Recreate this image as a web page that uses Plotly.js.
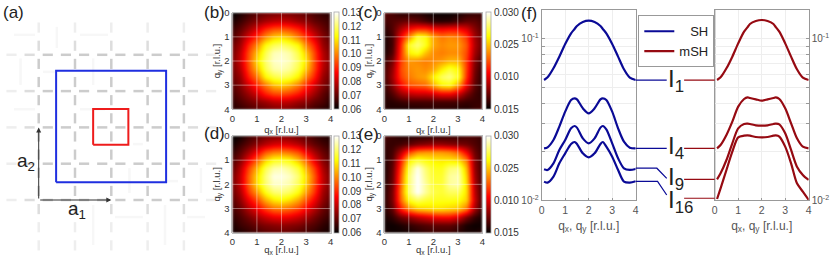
<!DOCTYPE html>
<html><head><meta charset="utf-8">
<script src="https://cdn.plot.ly/plotly-3.0.1.min.js"></script>
<style>html,body{margin:0;padding:0;background:#fff}#c{width:831px;height:256px}.hm image{filter:blur(1.3px)}</style>
</head><body><div id="c"></div>
<script>
// ---------- data ----------
const qMap = [0,1/3,2/3,1,4/3,5/3,2,7/3,8/3,3,10/3,11/3,4];
const panelB = [
[.060,.063,.066,.069,.071,.072,.073,.072,.071,.069,.067,.065,.064],
[.063,.066,.070,.074,.077,.079,.080,.079,.076,.074,.070,.068,.066],
[.066,.070,.076,.083,.090,.094,.095,.093,.089,.082,.076,.071,.067],
[.068,.074,.083,.092,.101,.107,.109,.106,.099,.091,.082,.074,.069],
[.071,.077,.090,.101,.113,.118,.120,.117,.112,.099,.089,.076,.071],
[.072,.080,.094,.107,.118,.125,.126,.124,.117,.106,.093,.079,.072],
[.073,.081,.095,.110,.120,.126,.127,.125,.119,.109,.094,.080,.073],
[.072,.079,.093,.106,.118,.124,.125,.123,.117,.106,.093,.079,.072],
[.071,.076,.089,.099,.112,.117,.119,.117,.111,.099,.089,.076,.071],
[.069,.074,.082,.091,.099,.106,.108,.105,.099,.090,.082,.074,.069],
[.067,.071,.076,.082,.089,.093,.094,.092,.088,.082,.076,.070,.066],
[.065,.068,.071,.074,.076,.079,.080,.079,.076,.074,.070,.068,.064],
[.064,.065,.067,.069,.071,.072,.073,.072,.070,.068,.066,.064,.063]];
const panelD = [
[.060,.062,.066,.069,.072,.073,.074,.073,.071,.069,.066,.064,.063],
[.062,.066,.070,.075,.079,.082,.083,.082,.079,.074,.070,.067,.065],
[.065,.070,.077,.086,.095,.099,.100,.098,.094,.085,.077,.071,.067],
[.068,.074,.085,.097,.108,.114,.115,.113,.106,.096,.084,.074,.069],
[.070,.079,.093,.106,.118,.124,.125,.122,.116,.104,.092,.078,.071],
[.072,.081,.096,.110,.121,.128,.128,.126,.120,.108,.095,.080,.072],
[.072,.081,.096,.110,.120,.126,.126,.124,.118,.107,.094,.080,.072],
[.071,.078,.092,.103,.114,.120,.121,.119,.113,.102,.091,.077,.071],
[.069,.075,.085,.094,.104,.110,.112,.109,.103,.094,.085,.075,.069],
[.067,.071,.078,.085,.092,.097,.098,.096,.092,.085,.078,.071,.067],
[.065,.068,.072,.077,.081,.084,.085,.084,.081,.077,.072,.068,.065],
[.063,.066,.068,.071,.073,.074,.075,.074,.073,.070,.068,.065,.063],
[.062,.063,.065,.067,.069,.070,.070,.070,.068,.067,.065,.063,.062]];
const panelC = [
[.0168,.0165,.0159,.0159,.0158,.0155,.0152,.0152,.0152,.0155,.0159,.0161,.0162],
[.0165,.0168,.0171,.0174,.0171,.0165,.0159,.0158,.0159,.0165,.0171,.0171,.0165],
[.0159,.0168,.0188,.0207,.0216,.0216,.0207,.0204,.0207,.0207,.0198,.0180,.0168],
[.0156,.0165,.0204,.0240,.0270,.0264,.0243,.0233,.0237,.0234,.0219,.0186,.0171],
[.0155,.0165,.0213,.0270,.0280,.0267,.0243,.0237,.0240,.0240,.0225,.0189,.0171],
[.0156,.0168,.0216,.0261,.0267,.0249,.0237,.0234,.0237,.0237,.0222,.0186,.0168],
[.0162,.0177,.0219,.0240,.0237,.0234,.0237,.0240,.0246,.0246,.0219,.0180,.0162],
[.0165,.0183,.0222,.0237,.0240,.0237,.0243,.0258,.0270,.0261,.0219,.0177,.0159],
[.0165,.0186,.0219,.0234,.0240,.0243,.0261,.0276,.0282,.0267,.0216,.0174,.0158],
[.0162,.0180,.0207,.0225,.0228,.0231,.0246,.0261,.0264,.0243,.0204,.0171,.0158],
[.0159,.0168,.0183,.0192,.0195,.0195,.0198,.0204,.0204,.0195,.0177,.0165,.0159],
[.0158,.0159,.0162,.0165,.0165,.0165,.0165,.0165,.0165,.0165,.0162,.0162,.0162],
[.0158,.0156,.0155,.0155,.0156,.0158,.0158,.0158,.0158,.0156,.0156,.0162,.0165]];
const panelE = [
[.0165,.0162,.0158,.0158,.0159,.0159,.0161,.0161,.0162,.0162,.0165,.0165,.0162],
[.0162,.0162,.0165,.0171,.0177,.0180,.0183,.0183,.0180,.0177,.0174,.0168,.0162],
[.0159,.0165,.0189,.0222,.0237,.0240,.0240,.0240,.0237,.0228,.0204,.0174,.0162],
[.0158,.0168,.0210,.0261,.0270,.0264,.0260,.0258,.0258,.0255,.0234,.0180,.0162],
[.0156,.0171,.0219,.0276,.0297,.0279,.0267,.0266,.0279,.0282,.0246,.0183,.0162],
[.0156,.0173,.0225,.0282,.0300,.0282,.0269,.0269,.0285,.0288,.0252,.0186,.0162],
[.0158,.0174,.0228,.0282,.0300,.0285,.0270,.0270,.0285,.0288,.0255,.0189,.0162],
[.0159,.0177,.0231,.0282,.0300,.0285,.0273,.0270,.0276,.0276,.0255,.0192,.0162],
[.0159,.0177,.0228,.0267,.0276,.0270,.0267,.0266,.0266,.0264,.0252,.0195,.0162],
[.0158,.0171,.0210,.0237,.0249,.0252,.0255,.0255,.0252,.0249,.0231,.0186,.0159],
[.0155,.0161,.0174,.0183,.0192,.0198,.0204,.0207,.0207,.0198,.0177,.0162,.0155],
[.0153,.0153,.0156,.0161,.0165,.0168,.0171,.0171,.0171,.0165,.0156,.0153,.0153],
[.0156,.0153,.0153,.0155,.0158,.0161,.0162,.0162,.0162,.0158,.0155,.0155,.0159]];
const cbLeftVals = [.06,.07,.08,.09,.10,.11,.12,.13];
const cbLeftText = ['0.06','0.07','0.08','0.09','0.10','0.11','0.12','0.13'];
const cbRightVals = [.015,.020,.025,.030];
const cbRightText = ['0.015','0.010','0.025','0.030'];

const q = [.1,.25,.5,.75,1,1.25,1.4,1.5,1.75,2,2.25,2.5,2.6,2.75,3,3.25,3.5,3.75,4];
const SH1  = [.05553,.05769,.06561,.07747,.09277,.1080,.1150,.1199,.1269,.1294,.1269,.1199,.1150,.1080,.09277,.07747,.0647,.05741,.05553];
const SH4  = [.02098,.02128,.02362,.02857,.03537,.04176,.04277,.04216,.03709,.03454,.03709,.04216,.04277,.04176,.03537,.0279,.02307,.02118,.02098];
const SH9  = [.01555,.01541,.01694,.02049,.02362,.0279,.02884,.02817,.02419,.02253,.02419,.02817,.02884,.02751,.02253,.01819,.01578,.01541,.01563];
const SH16 = [.01305,.01286,.01401,.01694,.01953,.02232,.02296,.02232,.01953,.01845,.01953,.02232,.02296,.02148,.01863,.01541,.01305,.01286,.01311];
const mSH1  = [.05553,.05769,.06561,.07747,.09366,.1106,.1180,.1234,.1287,.1306,.1287,.1234,.1180,.1106,.09366,.07747,.0647,.05741,.05553];
const mSH4  = [.02098,.0220,.02537,.03068,.03799,.04237,.04338,.0430,.04216,.04137,.04216,.0430,.04338,.04237,.03709,.02996,.02419,.02148,.02098];
const mSH9  = [.01349,.01469,.01776,.02253,.0279,.02968,.0298,.02968,.02912,.02898,.02912,.02968,.0298,.02953,.02598,.02049,.01615,.01435,.01336];
const mSH16 = [.01019,.01186,.01541,.02002,.02454,.02512,.0252,.02512,.02466,.02454,.02466,.02512,.0252,.02478,.02148,.01694,.01274,.01132,.01005];

// leader lines from the curves to the I_n labels (x in q units continuing past the left panel)
const leadSH = [
  {x:[4,5.32],y:[.05553,.05553]},
  {x:[4,5.32],y:[.02098,.02098]},
  {x:[4,4.9,5.32],y:[.0158,.0158,.01368]},
  {x:[4,4.93,5.32],y:[.01311,.01311,.01079]}];
const leadMSH = [
  {x:[6.06,7.36],y:[.05553,.05553]},
  {x:[6.06,7.36],y:[.02098,.02098]},
  {x:[6.06,7.36],y:[.01349,.01349]},
  {x:[6.06,7.36],y:[.0103,.0103]}];

// real-space lattice of panel (a), in units of half a lattice vector
const latticeLines = [0,1,2,3,4];
const blueCellX = [.48,3.51], blueCellY = [.49,3.56];
const redCellX = [1.5,2.47], redCellY = [1.52,2.51];
const faintH = [[4.55,-.68,-.1],[4.55,1.14,1.91],[3.53,.12,.45],[2.5,-.68,-.1],[2.5,1.14,1.83],[1.54,2.6,2.87],[.52,3.34,3.84],[-.47,2.1,2.87],[-.47,4.09,4.58]];
const faintV = [[.5,4.77,4.19],[-.5,3.9,3.17],[1.5,3.9,3.17],[2.5,.88,.19],[4.47,.88,.19],[3.48,-.14,-1.24],[1.5,-.14,-1.24]];

// ---------- helpers ----------
const W=831,H=256;
const dX=(a,b)=>[a/W,b/W], dY=(t,b)=>[1-b/H,1-t/H];
const FONT='"Liberation Sans", Arial, sans-serif';
const hot=[[0,'#000000'],[.375,'#ff0000'],[.75,'#ffff00'],[1,'#ffffff']];
const traces=[], shapes=[], ann=[];

function label(t,xp,yp,size,extra){ann.push(Object.assign({xref:'paper',yref:'paper',x:xp/W,y:1-yp/H,text:t,showarrow:false,
  xanchor:'left',yanchor:'middle',font:{family:FONT,size:size,color:'#222'}},extra||{}));}

// ---------- panel (a) ----------
const darkX=[],darkY=[],midX=[],midY=[],lightX=[],lightY=[];
function seg(xs,ys,a,b,c,d){xs.push(a,c,null);ys.push(b,d,null);}
const half=.14;
latticeLines.forEach(l=>{
  for(let k=-2;k<=9;k++){const c=k*.5+.25;
    const t=(k==-2||k==9)?[lightX,lightY]:((k==-1||k==8)?[midX,midY]:[darkX,darkY]);
    seg(t[0],t[1],c-half,l,c+half,l);}
  for(let k=-3;k<=9;k++){const c=k*.5+.25;
    const t=(k<=-2||k==9)?[lightX,lightY]:((k==-1||k==8)?[midX,midY]:[darkX,darkY]);
    seg(t[0],t[1],l,c-half,l,c+half);}
});
const fX=[],fY=[];
faintH.forEach(r=>seg(fX,fY,r[1],r[0],r[2],r[0]));
faintV.forEach(r=>seg(fX,fY,r[0],r[1],r[0],r[2]));
const latLine=(x,y,col,w)=>({type:'scatter',mode:'lines',x:x,y:y,xaxis:'x8',yaxis:'y8',line:{color:col,width:w},showlegend:false,hoverinfo:'skip'});
traces.push(latLine(fX,fY,'#f7f7f7',2.5));
traces.push(latLine(lightX,lightY,'#eeeeee',2.5));
traces.push(latLine(midX,midY,'#dddddd',2.5));
traces.push(latLine(darkX,darkY,'#cccccc',2.5));
const rect=(X,Y)=>({x:[X[0],X[1],X[1],X[0],X[0]],y:[Y[0],Y[0],Y[1],Y[1],Y[0]]});
const bc=rect(blueCellX,blueCellY), rc=rect(redCellX,redCellY);
traces.push(latLine(bc.x,bc.y,'#1f2fe0',2));
traces.push(latLine(rc.x,rc.y,'#ee1c1c',2));
[[2,0],[0,2]].forEach(p=>ann.push({xref:'x8',yref:'y8',axref:'x8',ayref:'y8',x:p[0],y:p[1],ax:0,ay:0,text:'',showarrow:true,
  arrowhead:2,arrowsize:1,arrowwidth:1,arrowcolor:'#333'}));
ann.push({xref:'x8',yref:'y8',x:1.05,y:-.27,text:'a<sub>1</sub>',showarrow:false,font:{family:FONT,size:19,color:'#222'}});
ann.push({xref:'x8',yref:'y8',x:-.34,y:1.06,text:'a<sub>2</sub>',showarrow:false,font:{family:FONT,size:19,color:'#222'}});

// ---------- heatmaps ----------
const cols={L:[232.3,330.7,333.5],R:[384.3,482.3,485.5]};
const rows={T:[12.7,109.3],B:[136,232.7]};
const layout={width:W,height:H,margin:{l:0,r:0,t:0,b:0,pad:0,autoexpand:false},paper_bgcolor:'#fff',plot_bgcolor:'rgba(0,0,0,0)',showlegend:true,
  font:{family:FONT}};
const gridQ=[1,2,3];
function heat(n,z,col,row,zmin,zmax,tv,tt){
  const s=n==1?'':String(n);
  traces.push({type:'heatmap',x:qMap,y:qMap,z:z,xaxis:'x'+s,yaxis:'y'+s,zsmooth:'best',colorscale:hot,zmin:zmin,zmax:zmax,hoverinfo:'skip',
    colorbar:{x:col[2]/W,xanchor:'left',xref:'paper',y:1-row[1]/H,yanchor:'bottom',yref:'paper',len:(row[1]-row[0])/H,lenmode:'fraction',
      thickness:5,thicknessmode:'pixels',xpad:0,ypad:0,outlinecolor:'#aaa',outlinewidth:.8,ticks:'',tickvals:tv,ticktext:tt,
      tickfont:{family:FONT,size:10,color:'#333'}}});
  const ax={range:[0,4],tickvals:[0,1,2,3,4],ticks:'',showgrid:false,zeroline:false,showline:true,mirror:true,linecolor:'#aaa',linewidth:.8,
    tickfont:{family:FONT,size:9.5,color:'#333'},ticklen:0};
  layout['xaxis'+s]=Object.assign({},ax,{domain:dX(col[0],col[1]),anchor:'y'+s,
    title:{text:'q<sub>x</sub> [r.l.u.]',standoff:0,font:{family:FONT,size:9.5,color:'#333'}}});
  layout['yaxis'+s]=Object.assign({},ax,{domain:dY(row[0],row[1]),anchor:'x'+s,range:[4,0],
    title:{text:'q<sub>y</sub> [r.l.u.]',standoff:1,font:{family:FONT,size:9.5,color:'#333'}}});
  gridQ.forEach(g=>{
    shapes.push({type:'line',xref:'x'+s,yref:'y'+s+' domain',x0:g,x1:g,y0:0,y1:1,line:{color:'rgba(255,255,255,.4)',width:1}});
    shapes.push({type:'line',yref:'y'+s,xref:'x'+s+' domain',y0:g,y1:g,x0:0,x1:1,line:{color:'rgba(255,255,255,.4)',width:1}});
  });
}
heat(1,panelB,cols.L,rows.T,.06,.13,cbLeftVals,cbLeftText);
heat(2,panelC,cols.R,rows.T,.015,.03,cbRightVals,cbRightText);
heat(3,panelD,cols.L,rows.B,.06,.13,cbLeftVals,cbLeftText);
heat(4,panelE,cols.R,rows.B,.015,.03,cbRightVals,cbRightText);

// ---------- panel (f) ----------
const BLUE='#0a0a96', RED='#960a12';
const curve=(y,col,xa,name)=>({type:'scatter',mode:'lines',x:q,y:y,xaxis:xa,yaxis:xa.replace('x','y'),
  line:{color:col,width:2.2,shape:'spline',smoothing:.8},name:name||'',showlegend:!!name,hoverinfo:'skip'});
traces.push(curve(SH1,BLUE,'x5','\u00a0\u00a0\u00a0SH'),curve(SH4,BLUE,'x5'),curve(SH9,BLUE,'x5'),curve(SH16,BLUE,'x5'));
traces.push(curve(mSH1,RED,'x6','mSH'),curve(mSH4,RED,'x6'),curve(mSH9,RED,'x6'),curve(mSH16,RED,'x6'));
leadSH.forEach(l=>traces.push({type:'scatter',mode:'lines',x:l.x,y:l.y,xaxis:'x7',yaxis:'y7',line:{color:BLUE,width:1.2},showlegend:false,hoverinfo:'skip'}));
leadMSH.forEach(l=>traces.push({type:'scatter',mode:'lines',x:l.x,y:l.y,xaxis:'x7',yaxis:'y7',line:{color:RED,width:1.2},showlegend:false,hoverinfo:'skip'}));

const yTop=10,yBot=200.3,logRange=[-2,-.822];
const logTicks=[.01,.02,.03,.04,.05,.06,.07,.08,.09,.1];
const logText=['10<sup>-2</sup>','','','','','','','','','10<sup>-1</sup>'];
const fx={range:[0,4],tickvals:[0,1,2,3,4],ticks:'inside',ticklen:2,tickcolor:'#999',showgrid:true,gridcolor:'#eeeeee',zeroline:false,
  showline:true,mirror:true,linecolor:'#999',linewidth:1,tickfont:{family:FONT,size:10.5,color:'#555'},
  title:{text:'q<sub>x</sub>, q<sub>y</sub> [r.l.u.]',standoff:6,font:{family:FONT,size:12,color:'#555'}}};
const fy={type:'log',range:logRange,tickvals:logTicks,ticktext:logText,ticks:'inside',ticklen:3,tickcolor:'#999',showgrid:true,gridcolor:'#eeeeee',
  zeroline:false,showline:true,mirror:true,linecolor:'#999',linewidth:1,tickfont:{family:FONT,size:10,color:'#555'}};
layout.xaxis5=Object.assign({},fx,{domain:dX(541.7,635.7),anchor:'y5'});
layout.yaxis5=Object.assign({},fy,{domain:dY(yTop,yBot),anchor:'x5'});
layout.xaxis6=Object.assign({},fx,{domain:dX(714.7,808.7),anchor:'y6'});
layout.yaxis6=Object.assign({},fy,{domain:dY(yTop,yBot),anchor:'x6',side:'right'});
layout.xaxis7={domain:dX(541.7,808.7),range:[0,267/23.5],visible:false,anchor:'y7'};
layout.yaxis7={type:'log',domain:dY(yTop,yBot),range:logRange,visible:false,anchor:'x7'};
// heavier left edge of the right-hand panel
shapes.push({type:'line',xref:'x6',yref:'y6 domain',x0:0,x1:0,y0:0,y1:1,layer:'below',line:{color:'#c4c4c4',width:2}});
// panel (a) axes
layout.xaxis8={domain:dX(0,222),range:[(0-38.7)/36.3,(222-38.7)/36.3],visible:false,anchor:'y8'};
layout.yaxis8={domain:[0,1],range:[(200-256)/36.3,200/36.3],visible:false,anchor:'x8'};

layout.legend={x:638.3/W,y:1-15.3/H,xanchor:'left',yanchor:'top',bgcolor:'#fff',bordercolor:'#999',borderwidth:1,
  font:{family:FONT,size:13,color:'#222'},itemwidth:30,tracegroupgap:0,entrywidth:34,entrywidthmode:'pixels'};

// panel letters and I_n labels
[['(a)',.5,12],['(b)',201.5,12],['(c)',355.5,12.5],['(d)',201.5,133],['(e)',355.5,134],['(f)',518.5,13]].forEach(a=>label(a[0],a[1],a[2],17));
[['I<sub>1</sub>',80],['I<sub>4</sub>',147],['I<sub>9</sub>',178],['I<sub>16</sub>',201]].forEach(a=>label(a[0],665.5,a[1],24));

layout.shapes=shapes; layout.annotations=ann;
Plotly.newPlot('c',traces,layout,{displayModeBar:false,staticPlot:true});
</script></body></html>
